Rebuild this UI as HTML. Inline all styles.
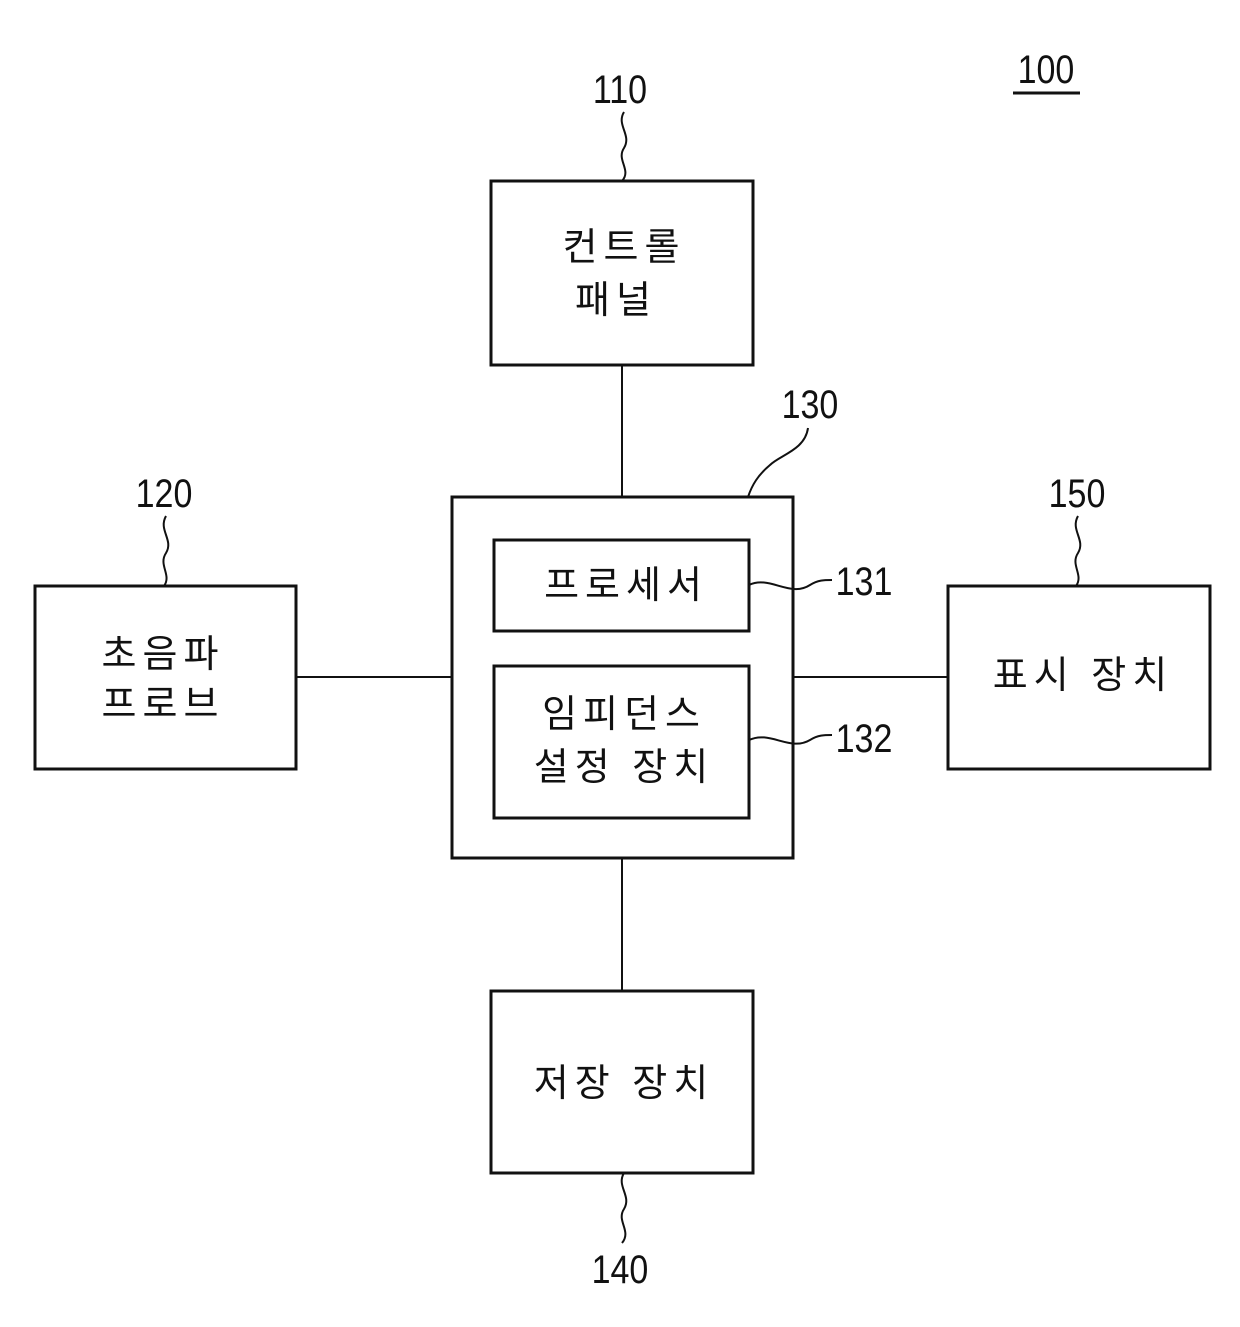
<!DOCTYPE html>
<html><head><meta charset="utf-8"><style>
html,body{margin:0;padding:0;background:#fff;}
svg{display:block;}
.k{font-family:"Liberation Sans","Noto Sans CJK KR","NanumGothic",sans-serif;font-size:38px;fill:#111;letter-spacing:6px;}
.n{font-family:"Liberation Sans",sans-serif;font-size:40px;fill:#111;}
</style></head><body>
<svg width="1240" height="1327" viewBox="0 0 1240 1327" xmlns="http://www.w3.org/2000/svg">
<g fill="none" stroke="#111" stroke-width="3">
<rect x="491" y="181" width="262" height="184"/>
<rect x="35" y="586" width="261" height="183"/>
<rect x="452" y="497" width="341" height="361"/>
<rect x="494" y="540" width="255" height="91"/>
<rect x="494" y="666" width="255" height="152"/>
<rect x="948" y="586" width="262" height="183"/>
<rect x="491" y="991" width="262" height="182"/>
</g>
<g fill="none" stroke="#111" stroke-width="2">
<line x1="622" y1="365" x2="622" y2="497"/>
<line x1="622" y1="858" x2="622" y2="991"/>
<line x1="296" y1="677" x2="452" y2="677"/>
<line x1="793" y1="677" x2="948" y2="677"/>
<path d="M624 112 C616 125,632 135,624 148 C616 160,632 170,622 181"/>
<path d="M166 516 C158 530,174 540,166 553 C158 565,172 575,164 586"/>
<path d="M1078 516 C1070 530,1086 540,1078 553 C1070 565,1084 575,1076 586"/>
<path d="M808 428 C805 450,780 455,770 465 C758 475,752 485,748 497"/>
<path d="M749 585 C770 575,790 598,810 585 C818 580,824 580,832 580"/>
<path d="M749 740 C770 730,790 752,810 740 C818 735,824 735,832 735"/>
<path d="M624 1173 C616 1186,632 1196,624 1209 C616 1221,632 1231,622 1243"/>
<line x1="1013" y1="93" x2="1080" y2="93" stroke-width="3"/>
</g>
<g class="n" text-anchor="middle">
<text x="620" y="103" transform="translate(620 0) scale(0.85 1) translate(-620 0)">110</text>
<text x="1046" y="83" transform="translate(1046 0) scale(0.85 1) translate(-1046 0)">100</text>
<text x="810" y="418" transform="translate(810 0) scale(0.85 1) translate(-810 0)">130</text>
<text x="164" y="507" transform="translate(164 0) scale(0.85 1) translate(-164 0)">120</text>
<text x="1077" y="507" transform="translate(1077 0) scale(0.85 1) translate(-1077 0)">150</text>
<text x="864" y="595" transform="translate(864 0) scale(0.85 1) translate(-864 0)">131</text>
<text x="864" y="752" transform="translate(864 0) scale(0.85 1) translate(-864 0)">132</text>
<text x="620" y="1283" transform="translate(620 0) scale(0.85 1) translate(-620 0)">140</text>
</g>
<g class="k" text-anchor="middle">
<text x="624" y="260">컨트롤</text>
<text x="616" y="313">패널</text>
<text x="163" y="667">초음파</text>
<text x="163" y="717">프로브</text>
<text x="626" y="598">프로세서</text>
<text x="624" y="727">임피던스</text>
<text x="624" y="780">설정 장치</text>
<text x="1083" y="688">표시 장치</text>
<text x="624" y="1096">저장 장치</text>
</g>
</svg>
</body></html>
